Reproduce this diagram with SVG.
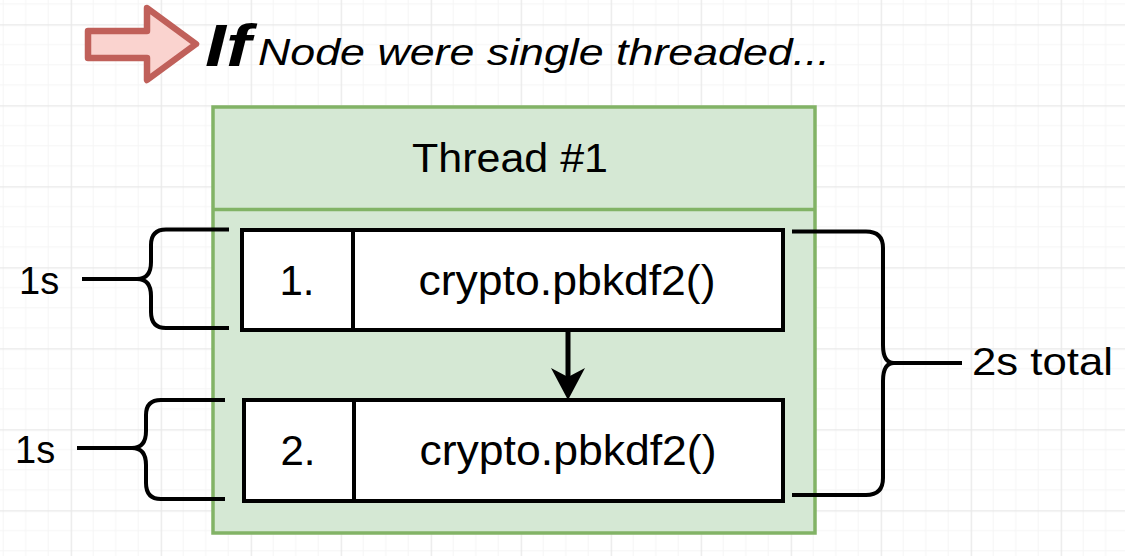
<svg xmlns="http://www.w3.org/2000/svg" width="1125" height="556" viewBox="0 0 1125 556">
<style>
.t{font-family:"Liberation Sans",Arial,sans-serif;fill:#000;}
.box{fill:#fff;stroke:#000;stroke-width:4;}
.brace{fill:none;stroke:#000;stroke-width:4;stroke-linejoin:round;stroke-linecap:butt;}
.conn{fill:none;stroke:#000;stroke-width:5;}
</style>
<defs>
<pattern id="grid" patternUnits="userSpaceOnUse" x="70.7" y="24.3" width="90" height="81">
<path d="M22.5,0V81M45,0V81M67.5,0V81M0,20.25H90M0,40.5H90M0,60.75H90" stroke="#f5f5f5" stroke-width="1" fill="none"/>
<path d="M0.5,0V81M0,0.5H90" stroke="#e8e8e8" stroke-width="1.5" fill="none"/>
</pattern>
<marker id="ah" markerUnits="userSpaceOnUse" viewBox="0 0 32 34" refX="22" refY="17" markerWidth="32" markerHeight="34" orient="auto">
<path d="M0,0 L32,17 L0,34 L9,17 Z" fill="#000"/>
</marker>
</defs>
<rect width="1125" height="556" fill="#fff"/>
<rect width="1125" height="556" fill="url(#grid)"/>

<g id="title">
<path d="M88,31 H147 V8 L196,44 L147,80 V58 H88 Z" fill="#fad3cf" stroke="#c0605a" stroke-width="6.5" stroke-linejoin="round"/>
<text class="t" x="205" y="66" font-size="60" font-weight="bold" font-style="italic" textLength="46" lengthAdjust="spacingAndGlyphs">If</text>
<text class="t" x="258" y="65" font-size="37.5" font-style="italic" textLength="572" lengthAdjust="spacingAndGlyphs">Node were single threaded...</text>
</g>

<g id="thread">
<rect x="213" y="107" width="602" height="426" fill="#d5e8d4" stroke="#82b366" stroke-width="3.5"/>
<line x1="213" y1="209.5" x2="815" y2="209.5" stroke="#82b366" stroke-width="3.5"/>
<text class="t" x="510" y="172" font-size="41" text-anchor="middle" textLength="196" lengthAdjust="spacingAndGlyphs">Thread #1</text>
</g>

<g id="task1">
<rect class="box" x="242" y="230" width="541" height="100"/>
<line x1="353" y1="230" x2="353" y2="330" stroke="#000" stroke-width="4"/>
<text class="t" x="297" y="295" font-size="42" text-anchor="middle">1.</text>
<text class="t" x="567" y="295" font-size="42" text-anchor="middle" textLength="297" lengthAdjust="spacingAndGlyphs">crypto.pbkdf2()</text>
</g>

<g id="task2">
<rect class="box" x="244" y="400" width="539" height="101"/>
<line x1="354" y1="400" x2="354" y2="501" stroke="#000" stroke-width="4"/>
<text class="t" x="298" y="465" font-size="42" text-anchor="middle">2.</text>
<text class="t" x="568" y="465" font-size="42" text-anchor="middle" textLength="297" lengthAdjust="spacingAndGlyphs">crypto.pbkdf2()</text>
</g>

<g id="connectors">
<line class="conn" x1="568" y1="332" x2="568" y2="390" marker-end="url(#ah)"/>
</g>

<g id="brace1">
<path class="brace" d="M229,229.5 H166 Q151,229.5 151,245 V262 Q151,279 137,279 Q151,279 151,296 V312 Q151,328 166,328 H229"/>
<line x1="82" y1="279" x2="139" y2="279" stroke="#000" stroke-width="4"/>
<text class="t" x="19" y="294" font-size="38">1s</text>
</g>

<g id="brace2">
<path class="brace" d="M225,400 H161 Q146,400 146,415 V431 Q146,448 132,448 Q146,448 146,465 V483 Q146,499 161,499 H225"/>
<line x1="77" y1="448" x2="134" y2="448" stroke="#000" stroke-width="4"/>
<text class="t" x="15" y="463" font-size="38">1s</text>
</g>

<g id="brace3">
<path class="brace" d="M792,231.5 H866 Q883,231.5 883,248 V345 Q883,363 894,363 Q883,363 883,381 V478 Q883,495 866,495 H792"/>
<line x1="892" y1="363" x2="962" y2="363" stroke="#000" stroke-width="4"/>
<text class="t" x="972" y="375" font-size="39" textLength="141" lengthAdjust="spacingAndGlyphs">2s total</text>
</g>
</svg>
